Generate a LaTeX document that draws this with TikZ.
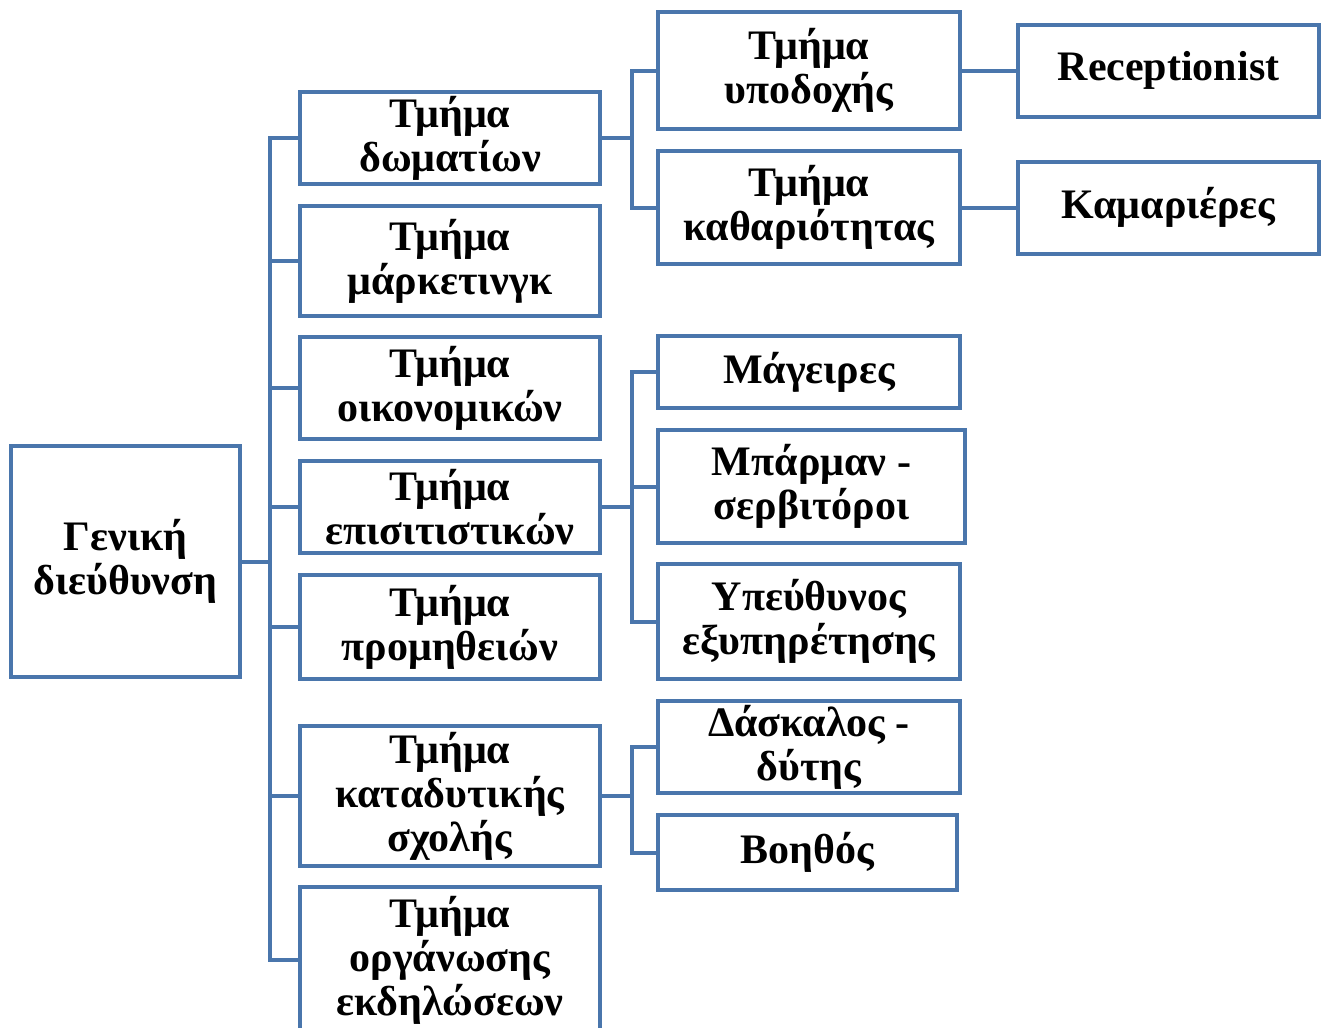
\documentclass[tikz,border=0pt]{standalone}
\usepackage{fontspec}
\setmainfont{Liberation Serif}
\usetikzlibrary{positioning}

\definecolor{orgblue}{RGB}{74,118,172}

\begin{document}
\begin{tikzpicture}[
 x=1pt, y=-1pt,
 unit/.style = {
    rectangle,
    draw=orgblue,
    line width=4pt,
    fill=white,
    align=center,
    inner sep=0pt,
    font=\fontsize{42}{44}\selectfont\bfseries},
 link/.style = {draw=orgblue, line width=4pt}
 ]
\useasboundingbox (0,0) rectangle (1326,1028);

% top level
\node(gen)[unit,minimum width=229,minimum height=231] at (125.5,561.5) {Γενική\\διεύθυνση};

% departments
\node(dom)[unit,minimum width=300,minimum height=92]  at (450,138)   {Τμήμα\\δωματίων};
\node(mark)[unit,minimum width=300,minimum height=110] at (450,261)  {Τμήμα\\μάρκετινγκ};
\node(oik)[unit,minimum width=300,minimum height=102] at (450,388)   {Τμήμα\\οικονομικών};
\node(epi)[unit,minimum width=300,minimum height=92]  at (450,507)   {Τμήμα\\επισιτιστικών};
\node(prom)[unit,minimum width=300,minimum height=104] at (450,627)  {Τμήμα\\προμηθειών};
\node(kat)[unit,minimum width=300,minimum height=140] at (450,796)   {Τμήμα\\καταδυτικής\\σχολής};
\node(org)[unit,minimum width=300,minimum height=146] at (450,960)   {Τμήμα\\οργάνωσης\\εκδηλώσεων};

% sub-departments and staff
\node(ypod)[unit,minimum width=302,minimum height=117] at (809,70.5)  {Τμήμα\\υποδοχής};
\node(kath)[unit,minimum width=302,minimum height=113] at (809,207.5) {Τμήμα\\καθαριότητας};
\node(mag)[unit,minimum width=302,minimum height=72]   at (809,372)   {Μάγειρες};
\node(barm)[unit,minimum width=307,minimum height=113] at (811.5,486.5) {Μπάρμαν -\\σερβιτόροι};
\node(ypeu)[unit,minimum width=302,minimum height=115] at (809,621.5) {Υπεύθυνος\\εξυπηρέτησης};
\node(dask)[unit,minimum width=302,minimum height=92]  at (809,747)   {Δάσκαλος -\\δύτης};
\node(voith)[unit,minimum width=299,minimum height=75] at (807.5,852.5) {Βοηθός};

\node(recep)[unit,minimum width=301,minimum height=92] at (1168.5,70.5) {Receptionist};
\node(kamar)[unit,minimum width=301,minimum height=92] at (1168.5,207.5) {Καμαριέρες};

% connectors
\coordinate (trunk) at (270,561.5);
\foreach \n in {dom,mark,oik,epi,prom,kat,org}
  \draw[link] (gen.east) -- (trunk) |- (\n.west);
\foreach \n in {ypod,kath}
  \draw[link] (dom.east) -- ++(30,0) |- (\n.west);
\foreach \n in {mag,barm,ypeu}
  \draw[link] (epi.east) -- ++(30,0) |- (\n.west);
\foreach \n in {dask,voith}
  \draw[link] (kat.east) -- ++(30,0) |- (\n.west);
\draw[link] (ypod.east) -- (recep.west);
\draw[link] (kath.east) -- (kamar.west);

\end{tikzpicture}
\end{document}
